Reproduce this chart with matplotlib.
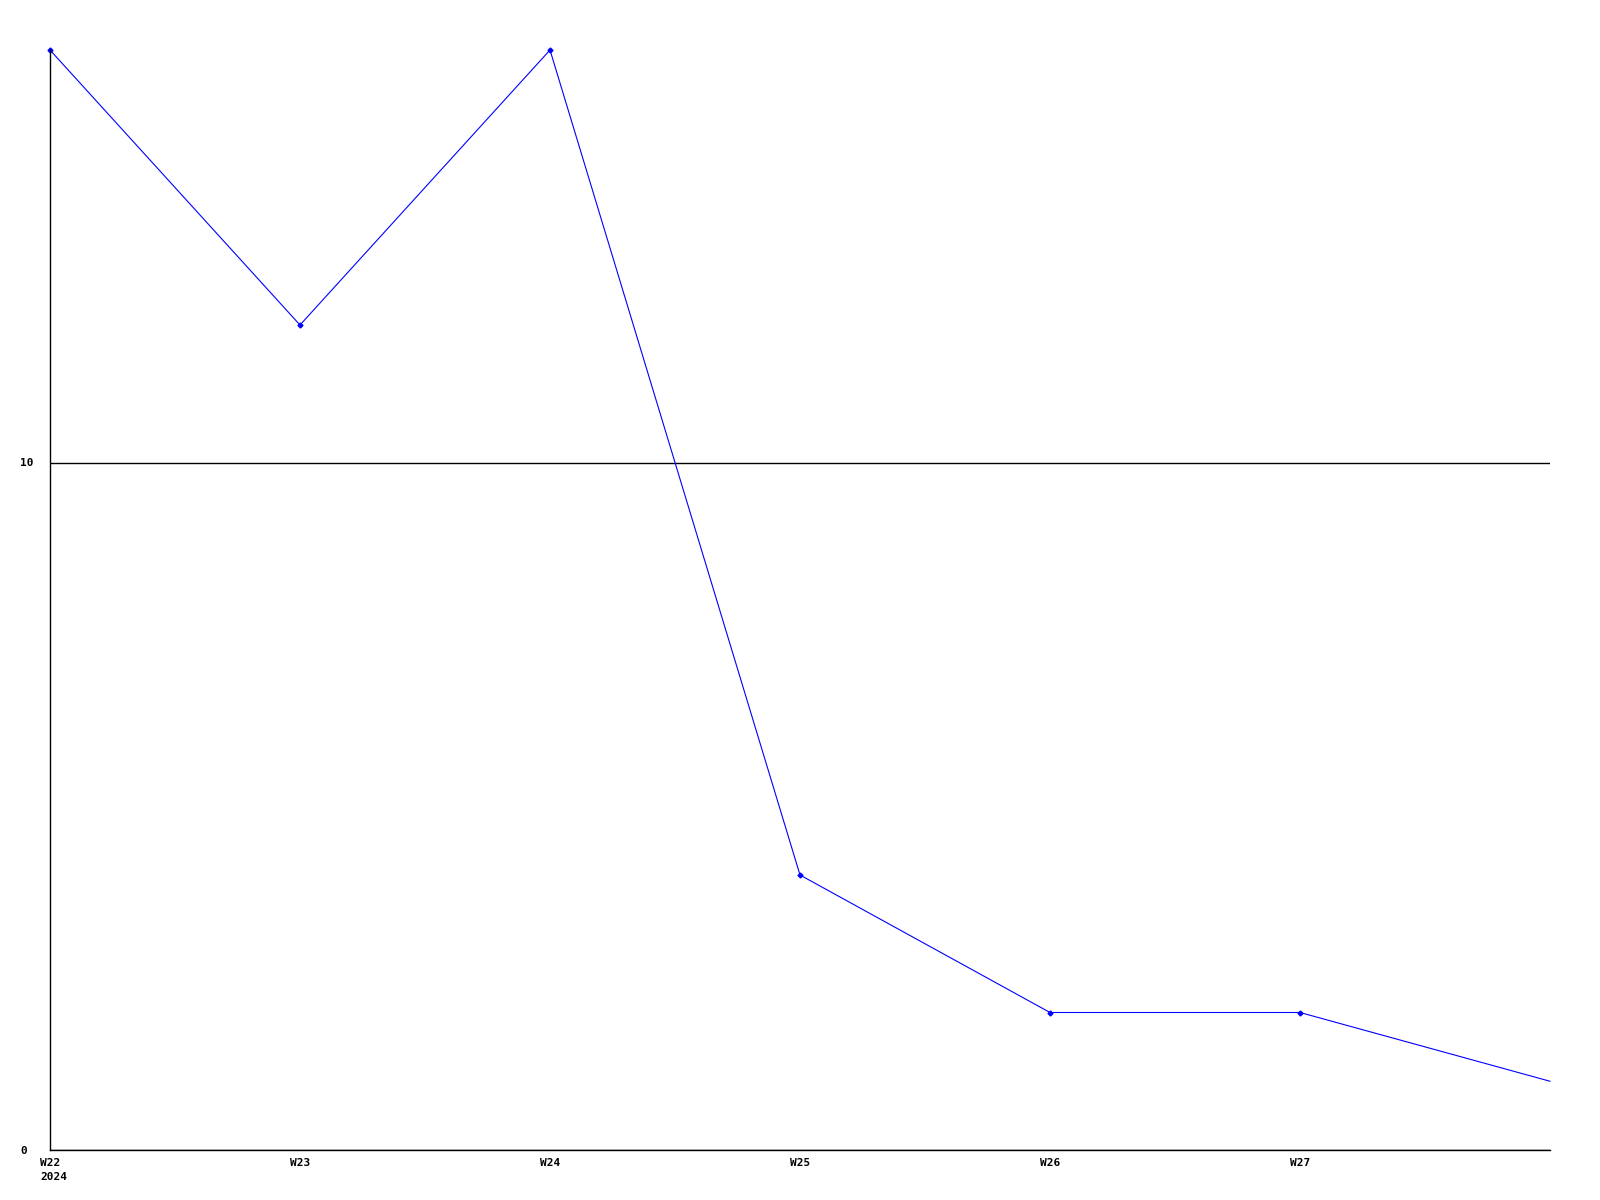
import matplotlib.pyplot as plt
from matplotlib.transforms import blended_transform_factory

weeks = ['W22', 'W23', 'W24', 'W25', 'W26', 'W27', 'W28']
values = [16, 12, 16, 4, 2, 2, 1]
year = '2024'
ytick_vals = [0, 10]

plt.rcParams['font.family'] = 'DejaVu Sans Mono'
plt.rcParams['font.weight'] = 'bold'
plt.rcParams['font.size'] = 8

fig = plt.figure(figsize=(16, 12), dpi=100)
ax = fig.add_axes([50 / 1600, 1 - 1150 / 1200, 1500 / 1600, 1100 / 1200])

x = list(range(len(weeks)))
ax.plot(x, values, color='#0000ff', lw=0.8, marker='D', markersize=2.5,
        markevery=list(range(len(weeks) - 1)), clip_on=False)

ax.set_xlim(0, len(weeks) - 1)
ax.set_ylim(0, 16)

ax.set_xticks(x[:-1])
ax.set_xticklabels(weeks[:-1])
ax.set_yticks(ytick_vals)
ax.set_yticklabels([str(v) for v in ytick_vals], ha='left')
ax.tick_params(axis='both', length=0)
ax.tick_params(axis='x', pad=6)
ax.tick_params(axis='y', pad=21.6)

ax.grid(axis='y', color='black', lw=1.0)
ax.set_axisbelow(True)
for side in ['top', 'right']:
    ax.spines[side].set_visible(False)
for side in ['left', 'bottom']:
    ax.spines[side].set_linewidth(1.0)

# year under the first week label
trans = blended_transform_factory(ax.transData, fig.transFigure)
ax.text(-0.04, 1 - 1177 / 1200, year, transform=trans, ha='left', va='center',
        fontsize=8, fontweight='bold')

fig.savefig('out.png', dpi=100)
